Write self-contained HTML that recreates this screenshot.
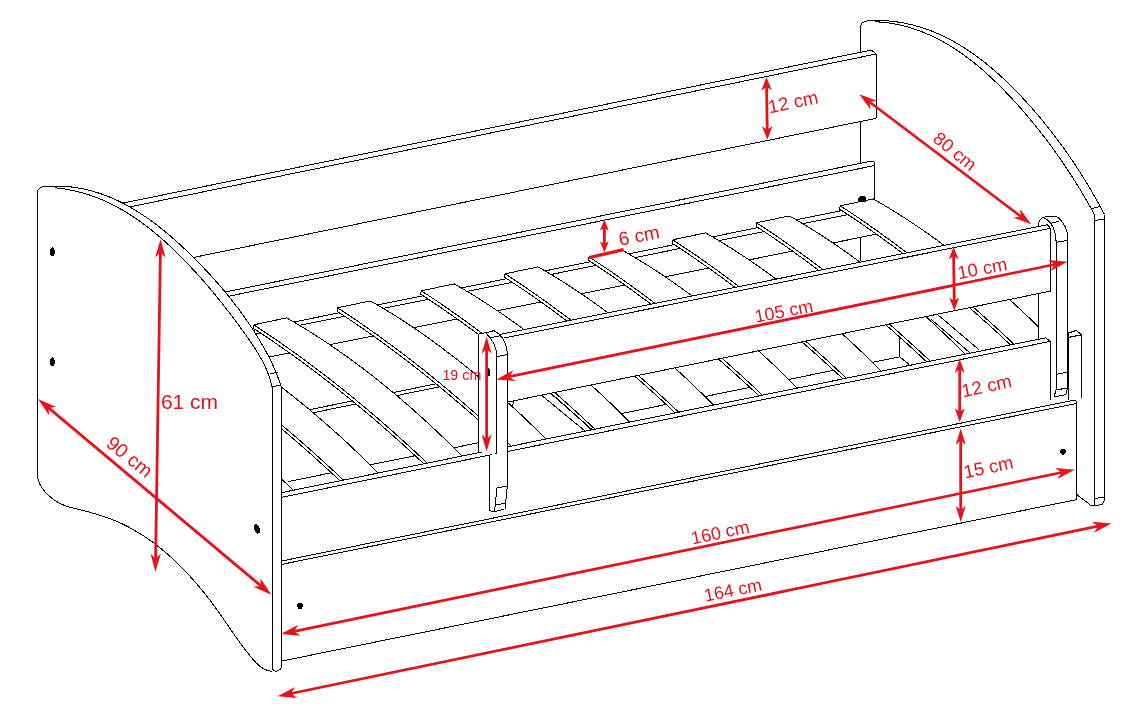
<!DOCTYPE html><html><head><meta charset="utf-8"><style>html,body{margin:0;padding:0;background:#fff;overflow:hidden}text{font-family:"Liberation Sans",sans-serif} .t{will-change:transform}</style></head><body><svg width="1148" height="710" viewBox="0 0 1148 710" style="display:block"><g shape-rendering="crispEdges"><path d="M860.6,300 V26 Q861,21 871,20.6 L871.00,20.59 L874.75,20.50 L878.46,20.51 L882.15,20.60 L885.81,20.79 L889.43,21.06 L893.03,21.42 L896.60,21.87 L900.13,22.40 L903.64,23.02 L907.12,23.71 L910.57,24.49 L913.99,25.34 L917.39,26.27 L920.75,27.27 L924.09,28.35 L927.40,29.49 L930.68,30.71 L933.94,32.00 L937.16,33.35 L940.36,34.77 L943.53,36.26 L946.68,37.80 L949.80,39.41 L952.89,41.08 L955.96,42.80 L959.00,44.58 L962.02,46.42 L965.01,48.30 L967.97,50.24 L970.91,52.23 L973.82,54.27 L976.71,56.36 L979.58,58.49 L982.42,60.66 L985.23,62.88 L988.02,65.14 L990.79,67.44 L993.53,69.77 L996.26,72.14 L998.95,74.55 L1001.63,76.98 L1004.28,79.45 L1006.91,81.95 L1009.51,84.48 L1012.09,87.04 L1014.66,89.62 L1017.19,92.22 L1019.71,94.85 L1022.21,97.50 L1024.68,100.16 L1027.14,102.85 L1029.57,105.55 L1031.98,108.27 L1034.37,111.00 L1036.73,113.75 L1039.08,116.52 L1041.41,119.30 L1043.71,122.10 L1045.99,124.92 L1048.25,127.74 L1050.49,130.59 L1052.71,133.44 L1054.91,136.31 L1057.08,139.19 L1059.24,142.09 L1061.37,145.00 L1063.48,147.92 L1065.57,150.85 L1067.64,153.79 L1069.69,156.75 L1071.71,159.71 L1073.72,162.69 L1075.70,165.67 L1077.66,168.67 L1079.60,171.67 L1081.52,174.68 L1083.42,177.71 L1085.29,180.74 L1087.15,183.77 L1088.98,186.82 L1090.79,189.87 L1092.58,192.93 L1094.35,195.99 L1096.10,199.06 L1097.82,202.14 L1099.52,205.22 L1101.21,208.31 L1102.87,211.40 L1104.51,214.49 L1104.5,499.6 L1102.5,504.6 L1094.7,505.5 L1091.5,505.9 L860.8,450 Z" fill="#fff" stroke="none"/><path d="M860.6,201 V26 Q861,21 871,20.6" fill="none" stroke="#000" stroke-width="1.0"/><path d="M871.00,20.59 L874.75,20.50 L878.46,20.51 L882.15,20.60 L885.81,20.79 L889.43,21.06 L893.03,21.42 L896.60,21.87 L900.13,22.40 L903.64,23.02 L907.12,23.71 L910.57,24.49 L913.99,25.34 L917.39,26.27 L920.75,27.27 L924.09,28.35 L927.40,29.49 L930.68,30.71 L933.94,32.00 L937.16,33.35 L940.36,34.77 L943.53,36.26 L946.68,37.80 L949.80,39.41 L952.89,41.08 L955.96,42.80 L959.00,44.58 L962.02,46.42 L965.01,48.30 L967.97,50.24 L970.91,52.23 L973.82,54.27 L976.71,56.36 L979.58,58.49 L982.42,60.66 L985.23,62.88 L988.02,65.14 L990.79,67.44 L993.53,69.77 L996.26,72.14 L998.95,74.55 L1001.63,76.98 L1004.28,79.45 L1006.91,81.95 L1009.51,84.48 L1012.09,87.04 L1014.66,89.62 L1017.19,92.22 L1019.71,94.85 L1022.21,97.50 L1024.68,100.16 L1027.14,102.85 L1029.57,105.55 L1031.98,108.27 L1034.37,111.00 L1036.73,113.75 L1039.08,116.52 L1041.41,119.30 L1043.71,122.10 L1045.99,124.92 L1048.25,127.74 L1050.49,130.59 L1052.71,133.44 L1054.91,136.31 L1057.08,139.19 L1059.24,142.09 L1061.37,145.00 L1063.48,147.92 L1065.57,150.85 L1067.64,153.79 L1069.69,156.75 L1071.71,159.71 L1073.72,162.69 L1075.70,165.67 L1077.66,168.67 L1079.60,171.67 L1081.52,174.68 L1083.42,177.71 L1085.29,180.74 L1087.15,183.77 L1088.98,186.82 L1090.79,189.87 L1092.58,192.93 L1094.35,195.99 L1096.10,199.06 L1097.82,202.14 L1099.52,205.22 L1101.21,208.31 L1102.87,211.40 L1104.51,214.49" fill="none" stroke="#000" stroke-width="1.0"/><path d="M874.60,21.70 L878.15,21.90 L881.68,22.18 L885.17,22.55 L888.62,23.00 L892.05,23.52 L895.45,24.13 L898.81,24.81 L902.14,25.57 L905.45,26.40 L908.72,27.31 L911.96,28.28 L915.18,29.33 L918.36,30.44 L921.52,31.62 L924.64,32.86 L927.74,34.17 L930.81,35.54 L933.85,36.97 L936.87,38.46 L939.86,40.00 L942.82,41.60 L945.76,43.26 L948.66,44.97 L951.55,46.73 L954.40,48.54 L957.24,50.40 L960.04,52.31 L962.83,54.26 L965.59,56.25 L968.32,58.29 L971.03,60.37 L973.72,62.49 L976.38,64.65 L979.02,66.85 L981.64,69.08 L984.24,71.34 L986.81,73.64 L989.36,75.96 L991.89,78.32 L994.40,80.70 L996.89,83.11 L999.36,85.55 L1001.81,88.01 L1004.24,90.49 L1006.65,92.99 L1009.04,95.51 L1011.41,98.04 L1013.76,100.60 L1016.10,103.17 L1018.41,105.75 L1020.71,108.34 L1022.99,110.95 L1025.25,113.57 L1027.50,116.20 L1029.72,118.84 L1031.93,121.50 L1034.12,124.17 L1036.29,126.85 L1038.45,129.54 L1040.58,132.25 L1042.70,134.97 L1044.80,137.69 L1046.88,140.43 L1048.94,143.18 L1050.99,145.94 L1053.02,148.71 L1055.03,151.49 L1057.02,154.29 L1058.99,157.09 L1060.95,159.90 L1062.89,162.72 L1064.81,165.55 L1066.71,168.39 L1068.59,171.24 L1070.46,174.10 L1072.31,176.97 L1074.14,179.85 L1075.95,182.73 L1077.74,185.63 L1079.52,188.53 L1081.28,191.44 L1083.02,194.36 L1084.74,197.28 L1086.45,200.22 L1088.14,203.16 L1089.80,206.11 L1091.46,209.06 L1093.09,212.03 L1094.71,215.00" fill="none" stroke="#000" stroke-width="1.0"/><line x1="1094.7" y1="215.0" x2="1094.7" y2="505.5" stroke="#000" stroke-width="1.0"/><line x1="1104.5" y1="214.5" x2="1104.5" y2="499.6" stroke="#000" stroke-width="1.0"/><line x1="1104.5" y1="499.6" x2="1102.5" y2="504.6" stroke="#000" stroke-width="1.0"/><line x1="1102.5" y1="504.6" x2="1094.7" y2="505.5" stroke="#000" stroke-width="1.0"/><line x1="1092.4" y1="208.5" x2="1100.8" y2="206.2" stroke="#000" stroke-width="1.0"/><line x1="1094.7" y1="220.3" x2="1104.5" y2="219.4" stroke="#000" stroke-width="1.0"/><line x1="1094.7" y1="498.3" x2="1104.5" y2="497.3" stroke="#000" stroke-width="1.0"/><path d="M1068.6,333 L1076.3,330.4 L1081.5,334.8 V398.3" fill="none" stroke="#000" stroke-width="1.0"/><line x1="1068.6" y1="333.0" x2="1068.6" y2="400.0" stroke="#000" stroke-width="1.0"/><line x1="1068.6" y1="337.4" x2="1081.5" y2="334.8" stroke="#000" stroke-width="1.0"/><path d="M100,210 L869.2,50.5 L874.4,52.3 L876.2,54 L876.2,118.3 L150,266 Z" fill="#fff" stroke="none"/><line x1="100.0" y1="207.8" x2="869.2" y2="50.5" stroke="#000" stroke-width="1.0"/><path d="M869.2,50.5 Q872.5,49.8 876.2,54" fill="none" stroke="#000" stroke-width="1.0"/><line x1="100.0" y1="213.0" x2="876.2" y2="54.0" stroke="#000" stroke-width="1.0"/><line x1="876.2" y1="54.0" x2="876.2" y2="118.3" stroke="#000" stroke-width="1.0"/><line x1="150.0" y1="266.3" x2="876.2" y2="118.3" stroke="#000" stroke-width="1.0"/><path d="M200,300 L870.7,161.3 L874.9,162.7 L874.9,203.8 L200,341 Z" fill="#fff" stroke="none"/><line x1="200.0" y1="297.1" x2="870.7" y2="161.3" stroke="#000" stroke-width="1.0"/><path d="M870.7,161.3 Q873,160.8 874.9,162.7" fill="none" stroke="#000" stroke-width="1.0"/><line x1="200.0" y1="302.0" x2="874.9" y2="165.5" stroke="#000" stroke-width="1.0"/><line x1="874.9" y1="162.7" x2="874.9" y2="200.7" stroke="#000" stroke-width="1.0"/><line x1="200.0" y1="341.1" x2="874.0" y2="204.0" stroke="#000" stroke-width="1.0"/><line x1="200.0" y1="345.4" x2="874.0" y2="209.3" stroke="#000" stroke-width="1.0"/><line x1="250.0" y1="360.8" x2="876.2" y2="234.2" stroke="#000" stroke-width="1.0"/><line x1="270.0" y1="417.8" x2="480.0" y2="374.8" stroke="#000" stroke-width="1.0"/><line x1="270.0" y1="421.6" x2="480.0" y2="378.5" stroke="#000" stroke-width="1.0"/><line x1="287.7" y1="481.7" x2="537.0" y2="430.8" stroke="#000" stroke-width="1.0"/><line x1="586.0" y1="420.8" x2="899.3" y2="356.9" stroke="#000" stroke-width="1.0"/><line x1="281.8" y1="479.3" x2="292.7" y2="489.5" stroke="#000" stroke-width="1.0"/><line x1="860.4" y1="236.6" x2="860.4" y2="261.3" stroke="#000" stroke-width="1.0"/><line x1="899.3" y1="333.5" x2="899.3" y2="356.5" stroke="#000" stroke-width="1.0"/><line x1="899.3" y1="356.5" x2="908.9" y2="364.2" stroke="#000" stroke-width="1.0"/><path d="M169.9,341.8 C172.0,343.2 178.2,347.2 182.3,350.0 C186.4,352.7 190.6,355.5 194.7,358.4 C198.8,361.3 203.0,364.2 207.1,367.1 C211.2,370.0 215.3,373.0 219.5,376.1 C223.6,379.1 227.7,382.2 231.9,385.3 C236.0,388.4 240.1,391.6 244.3,394.8 C248.4,398.0 252.5,401.2 256.7,404.5 C260.8,407.8 264.9,411.1 269.1,414.5 C273.2,417.9 277.3,421.3 281.5,424.8 C285.6,428.3 289.7,431.8 293.8,435.3 C298.0,438.9 302.1,442.5 306.2,446.1 C310.4,449.8 314.5,453.4 318.6,457.2 C322.8,460.9 326.9,464.7 331.0,468.5 C335.2,472.3 341.4,478.2 343.4,480.1 L378.3,473.0 C376.2,471.0 369.9,464.7 365.8,460.6 C361.6,456.5 357.4,452.5 353.2,448.6 C349.1,444.6 344.9,440.7 340.7,436.9 C336.5,433.1 332.3,429.4 328.2,425.7 C324.0,422.0 319.8,418.4 315.6,414.8 C311.4,411.3 307.3,407.8 303.1,404.4 C298.9,401.0 294.7,397.6 290.6,394.3 C286.4,391.0 282.2,387.8 278.0,384.6 C273.8,381.5 269.7,378.4 265.5,375.4 C261.3,372.3 257.1,369.4 252.9,366.5 C248.8,363.6 244.6,360.7 240.4,358.0 C236.2,355.2 232.1,352.5 227.9,349.9 C223.7,347.2 219.5,344.7 215.3,342.2 C211.2,339.7 204.9,336.1 202.8,334.9 Z" fill="#fff" stroke="none"/><path d="M169.3,345.2 C171.4,346.6 177.6,350.6 181.7,353.4 C185.8,356.1 190.0,358.9 194.1,361.8 C198.2,364.7 202.4,367.6 206.5,370.5 C210.6,373.4 214.7,376.4 218.9,379.5 C223.0,382.5 227.1,385.6 231.3,388.7 C235.4,391.8 239.5,395.0 243.7,398.2 C247.8,401.4 251.9,404.6 256.1,407.9 C260.2,411.2 264.3,414.5 268.5,417.9 C272.6,421.3 276.7,424.7 280.9,428.2 C285.0,431.7 289.1,435.2 293.2,438.7 C297.4,442.3 301.5,445.9 305.6,449.5 C309.8,453.2 313.9,456.8 318.0,460.6 C322.2,464.3 326.3,468.1 330.4,471.9 C334.6,475.7 340.8,481.6 342.8,483.5 L343.4,480.1 C341.4,478.2 335.2,472.3 331.0,468.5 C326.9,464.7 322.8,460.9 318.6,457.2 C314.5,453.4 310.4,449.8 306.2,446.1 C302.1,442.5 298.0,438.9 293.8,435.3 C289.7,431.8 285.6,428.3 281.5,424.8 C277.3,421.3 273.2,417.9 269.1,414.5 C264.9,411.1 260.8,407.8 256.7,404.5 C252.5,401.2 248.4,398.0 244.3,394.8 C240.1,391.6 236.0,388.4 231.9,385.3 C227.7,382.2 223.6,379.1 219.5,376.1 C215.3,373.0 211.2,370.0 207.1,367.1 C203.0,364.2 198.8,361.3 194.7,358.4 C190.6,355.5 186.4,352.7 182.3,350.0 C178.2,347.2 172.0,343.2 169.9,341.8 Z" fill="#fff" stroke="none"/><path d="M169.9,341.8 C172.0,343.2 178.2,347.2 182.3,350.0 C186.4,352.7 190.6,355.5 194.7,358.4 C198.8,361.3 203.0,364.2 207.1,367.1 C211.2,370.0 215.3,373.0 219.5,376.1 C223.6,379.1 227.7,382.2 231.9,385.3 C236.0,388.4 240.1,391.6 244.3,394.8 C248.4,398.0 252.5,401.2 256.7,404.5 C260.8,407.8 264.9,411.1 269.1,414.5 C273.2,417.9 277.3,421.3 281.5,424.8 C285.6,428.3 289.7,431.8 293.8,435.3 C298.0,438.9 302.1,442.5 306.2,446.1 C310.4,449.8 314.5,453.4 318.6,457.2 C322.8,460.9 326.9,464.7 331.0,468.5 C335.2,472.3 341.4,478.2 343.4,480.1" fill="none" stroke="#000" stroke-width="1"/><path d="M169.3,345.2 C171.4,346.6 177.6,350.6 181.7,353.4 C185.8,356.1 190.0,358.9 194.1,361.8 C198.2,364.7 202.4,367.6 206.5,370.5 C210.6,373.4 214.7,376.4 218.9,379.5 C223.0,382.5 227.1,385.6 231.3,388.7 C235.4,391.8 239.5,395.0 243.7,398.2 C247.8,401.4 251.9,404.6 256.1,407.9 C260.2,411.2 264.3,414.5 268.5,417.9 C272.6,421.3 276.7,424.7 280.9,428.2 C285.0,431.7 289.1,435.2 293.2,438.7 C297.4,442.3 301.5,445.9 305.6,449.5 C309.8,453.2 313.9,456.8 318.0,460.6 C322.2,464.3 326.3,468.1 330.4,471.9 C334.6,475.7 340.8,481.6 342.8,483.5" fill="none" stroke="#000" stroke-width="1"/><path d="M202.8,334.9 C204.9,336.1 211.2,339.7 215.3,342.2 C219.5,344.7 223.7,347.2 227.9,349.9 C232.1,352.5 236.2,355.2 240.4,358.0 C244.6,360.7 248.8,363.6 252.9,366.5 C257.1,369.4 261.3,372.3 265.5,375.4 C269.7,378.4 273.8,381.5 278.0,384.6 C282.2,387.8 286.4,391.0 290.6,394.3 C294.7,397.6 298.9,401.0 303.1,404.4 C307.3,407.8 311.4,411.3 315.6,414.8 C319.8,418.4 324.0,422.0 328.2,425.7 C332.3,429.4 336.5,433.1 340.7,436.9 C344.9,440.7 349.1,444.6 353.2,448.6 C357.4,452.5 361.6,456.5 365.8,460.6 C369.9,464.7 376.2,471.0 378.3,473.0" fill="none" stroke="#000" stroke-width="1"/><line x1="169.9" y1="341.8" x2="202.8" y2="334.9" stroke="#000" stroke-width="1.0"/><line x1="169.9" y1="341.8" x2="169.3" y2="345.2" stroke="#000" stroke-width="1.0"/><path d="M253.7,324.8 C255.8,326.2 262.0,330.2 266.1,333.0 C270.2,335.7 274.4,338.5 278.5,341.4 C282.6,344.3 286.8,347.2 290.9,350.1 C295.0,353.0 299.2,356.0 303.3,359.1 C307.4,362.1 311.5,365.2 315.7,368.3 C319.8,371.4 323.9,374.6 328.1,377.8 C332.2,381.0 336.3,384.2 340.5,387.5 C344.6,390.8 348.7,394.1 352.9,397.5 C357.0,400.9 361.1,404.3 365.3,407.8 C369.4,411.3 373.5,414.8 377.7,418.3 C381.8,421.9 385.9,425.5 390.1,429.1 C394.2,432.8 398.3,436.5 402.5,440.2 C406.6,443.9 410.7,447.7 414.9,451.5 C419.0,455.3 425.2,461.2 427.2,463.1 L462.1,456.0 C460.0,454.0 453.8,447.7 449.6,443.6 C445.4,439.5 441.2,435.5 437.0,431.6 C432.9,427.6 428.7,423.8 424.5,419.9 C420.3,416.1 416.1,412.4 412.0,408.7 C407.8,405.0 403.6,401.4 399.4,397.8 C395.3,394.3 391.1,390.8 386.9,387.4 C382.7,384.0 378.5,380.6 374.4,377.3 C370.2,374.0 366.0,370.8 361.8,367.6 C357.6,364.5 353.5,361.4 349.3,358.4 C345.1,355.3 340.9,352.4 336.7,349.5 C332.6,346.6 328.4,343.7 324.2,341.0 C320.0,338.2 315.9,335.5 311.7,332.9 C307.5,330.2 303.3,327.7 299.1,325.2 C295.0,322.7 288.7,319.1 286.6,317.9 Z" fill="#fff" stroke="none"/><path d="M253.1,328.2 C255.2,329.6 261.4,333.6 265.5,336.4 C269.6,339.1 273.8,341.9 277.9,344.8 C282.0,347.7 286.2,350.6 290.3,353.5 C294.4,356.4 298.6,359.4 302.7,362.5 C306.8,365.5 310.9,368.6 315.1,371.7 C319.2,374.8 323.3,378.0 327.5,381.2 C331.6,384.4 335.7,387.6 339.9,390.9 C344.0,394.2 348.1,397.5 352.3,400.9 C356.4,404.3 360.5,407.7 364.7,411.2 C368.8,414.7 372.9,418.2 377.1,421.7 C381.2,425.3 385.3,428.9 389.5,432.5 C393.6,436.2 397.7,439.9 401.9,443.6 C406.0,447.3 410.1,451.1 414.3,454.9 C418.4,458.7 424.6,464.6 426.6,466.5 L427.2,463.1 C425.2,461.2 419.0,455.3 414.9,451.5 C410.7,447.7 406.6,443.9 402.5,440.2 C398.3,436.5 394.2,432.8 390.1,429.1 C385.9,425.5 381.8,421.9 377.7,418.3 C373.5,414.8 369.4,411.3 365.3,407.8 C361.1,404.3 357.0,400.9 352.9,397.5 C348.7,394.1 344.6,390.8 340.5,387.5 C336.3,384.2 332.2,381.0 328.1,377.8 C323.9,374.6 319.8,371.4 315.7,368.3 C311.5,365.2 307.4,362.1 303.3,359.1 C299.2,356.0 295.0,353.0 290.9,350.1 C286.8,347.2 282.6,344.3 278.5,341.4 C274.4,338.5 270.2,335.7 266.1,333.0 C262.0,330.2 255.8,326.2 253.7,324.8 Z" fill="#fff" stroke="none"/><path d="M253.7,324.8 C255.8,326.2 262.0,330.2 266.1,333.0 C270.2,335.7 274.4,338.5 278.5,341.4 C282.6,344.3 286.8,347.2 290.9,350.1 C295.0,353.0 299.2,356.0 303.3,359.1 C307.4,362.1 311.5,365.2 315.7,368.3 C319.8,371.4 323.9,374.6 328.1,377.8 C332.2,381.0 336.3,384.2 340.5,387.5 C344.6,390.8 348.7,394.1 352.9,397.5 C357.0,400.9 361.1,404.3 365.3,407.8 C369.4,411.3 373.5,414.8 377.7,418.3 C381.8,421.9 385.9,425.5 390.1,429.1 C394.2,432.8 398.3,436.5 402.5,440.2 C406.6,443.9 410.7,447.7 414.9,451.5 C419.0,455.3 425.2,461.2 427.2,463.1" fill="none" stroke="#000" stroke-width="1"/><path d="M253.1,328.2 C255.2,329.6 261.4,333.6 265.5,336.4 C269.6,339.1 273.8,341.9 277.9,344.8 C282.0,347.7 286.2,350.6 290.3,353.5 C294.4,356.4 298.6,359.4 302.7,362.5 C306.8,365.5 310.9,368.6 315.1,371.7 C319.2,374.8 323.3,378.0 327.5,381.2 C331.6,384.4 335.7,387.6 339.9,390.9 C344.0,394.2 348.1,397.5 352.3,400.9 C356.4,404.3 360.5,407.7 364.7,411.2 C368.8,414.7 372.9,418.2 377.1,421.7 C381.2,425.3 385.3,428.9 389.5,432.5 C393.6,436.2 397.7,439.9 401.9,443.6 C406.0,447.3 410.1,451.1 414.3,454.9 C418.4,458.7 424.6,464.6 426.6,466.5" fill="none" stroke="#000" stroke-width="1"/><path d="M286.6,317.9 C288.7,319.1 295.0,322.7 299.1,325.2 C303.3,327.7 307.5,330.2 311.7,332.9 C315.9,335.5 320.0,338.2 324.2,341.0 C328.4,343.7 332.6,346.6 336.7,349.5 C340.9,352.4 345.1,355.3 349.3,358.4 C353.5,361.4 357.6,364.5 361.8,367.6 C366.0,370.8 370.2,374.0 374.4,377.3 C378.5,380.6 382.7,384.0 386.9,387.4 C391.1,390.8 395.3,394.3 399.4,397.8 C403.6,401.4 407.8,405.0 412.0,408.7 C416.1,412.4 420.3,416.1 424.5,419.9 C428.7,423.8 432.9,427.6 437.0,431.6 C441.2,435.5 445.4,439.5 449.6,443.6 C453.8,447.7 460.0,454.0 462.1,456.0" fill="none" stroke="#000" stroke-width="1"/><line x1="253.7" y1="324.8" x2="286.6" y2="317.9" stroke="#000" stroke-width="1.0"/><line x1="253.7" y1="324.8" x2="253.1" y2="328.2" stroke="#000" stroke-width="1.0"/><path d="M337.5,307.8 C339.6,309.2 345.8,313.2 349.9,316.0 C354.0,318.7 358.2,321.5 362.3,324.4 C366.4,327.3 370.6,330.2 374.7,333.1 C378.8,336.0 383.0,339.0 387.1,342.1 C391.2,345.1 395.4,348.2 399.5,351.3 C403.6,354.4 407.8,357.6 411.9,360.8 C416.0,364.0 420.2,367.2 424.3,370.5 C428.4,373.8 432.5,377.1 436.7,380.5 C440.8,383.9 444.9,387.3 449.1,390.8 C453.2,394.3 457.3,397.8 461.5,401.3 C465.6,404.9 469.7,408.5 473.9,412.1 C478.0,415.8 482.1,419.5 486.3,423.2 C490.4,426.9 494.5,430.7 498.7,434.5 C502.8,438.4 509.0,444.2 511.1,446.1 L545.9,439.1 C543.8,437.0 537.6,430.7 533.4,426.6 C529.2,422.6 525.0,418.5 520.9,414.6 C516.7,410.7 512.5,406.8 508.3,403.0 C504.1,399.1 500.0,395.4 495.8,391.7 C491.6,388.0 487.4,384.4 483.2,380.9 C479.1,377.3 474.9,373.8 470.7,370.4 C466.5,367.0 462.3,363.6 458.2,360.3 C454.0,357.0 449.8,353.8 445.6,350.7 C441.5,347.5 437.3,344.4 433.1,341.4 C428.9,338.3 424.7,335.4 420.6,332.5 C416.4,329.6 412.2,326.8 408.0,324.0 C403.8,321.2 399.7,318.5 395.5,315.9 C391.3,313.2 387.1,310.7 382.9,308.2 C378.8,305.7 372.5,302.1 370.4,300.9 Z" fill="#fff" stroke="none"/><path d="M336.9,311.2 C339.0,312.6 345.2,316.6 349.3,319.4 C353.4,322.1 357.6,324.9 361.7,327.8 C365.8,330.7 370.0,333.6 374.1,336.5 C378.2,339.4 382.4,342.4 386.5,345.5 C390.6,348.5 394.8,351.6 398.9,354.7 C403.0,357.8 407.2,361.0 411.3,364.2 C415.4,367.4 419.6,370.6 423.7,373.9 C427.8,377.2 431.9,380.5 436.1,383.9 C440.2,387.3 444.3,390.7 448.5,394.2 C452.6,397.7 456.7,401.2 460.9,404.7 C465.0,408.3 469.1,411.9 473.3,415.5 C477.4,419.2 481.5,422.9 485.7,426.6 C489.8,430.3 493.9,434.1 498.1,437.9 C502.2,441.8 508.4,447.6 510.5,449.5 L511.1,446.1 C509.0,444.2 502.8,438.4 498.7,434.5 C494.5,430.7 490.4,426.9 486.3,423.2 C482.1,419.5 478.0,415.8 473.9,412.1 C469.7,408.5 465.6,404.9 461.5,401.3 C457.3,397.8 453.2,394.3 449.1,390.8 C444.9,387.3 440.8,383.9 436.7,380.5 C432.5,377.1 428.4,373.8 424.3,370.5 C420.2,367.2 416.0,364.0 411.9,360.8 C407.8,357.6 403.6,354.4 399.5,351.3 C395.4,348.2 391.2,345.1 387.1,342.1 C383.0,339.0 378.8,336.0 374.7,333.1 C370.6,330.2 366.4,327.3 362.3,324.4 C358.2,321.5 354.0,318.7 349.9,316.0 C345.8,313.2 339.6,309.2 337.5,307.8 Z" fill="#fff" stroke="none"/><path d="M337.5,307.8 C339.6,309.2 345.8,313.2 349.9,316.0 C354.0,318.7 358.2,321.5 362.3,324.4 C366.4,327.3 370.6,330.2 374.7,333.1 C378.8,336.0 383.0,339.0 387.1,342.1 C391.2,345.1 395.4,348.2 399.5,351.3 C403.6,354.4 407.8,357.6 411.9,360.8 C416.0,364.0 420.2,367.2 424.3,370.5 C428.4,373.8 432.5,377.1 436.7,380.5 C440.8,383.9 444.9,387.3 449.1,390.8 C453.2,394.3 457.3,397.8 461.5,401.3 C465.6,404.9 469.7,408.5 473.9,412.1 C478.0,415.8 482.1,419.5 486.3,423.2 C490.4,426.9 494.5,430.7 498.7,434.5 C502.8,438.4 509.0,444.2 511.1,446.1" fill="none" stroke="#000" stroke-width="1"/><path d="M336.9,311.2 C339.0,312.6 345.2,316.6 349.3,319.4 C353.4,322.1 357.6,324.9 361.7,327.8 C365.8,330.7 370.0,333.6 374.1,336.5 C378.2,339.4 382.4,342.4 386.5,345.5 C390.6,348.5 394.8,351.6 398.9,354.7 C403.0,357.8 407.2,361.0 411.3,364.2 C415.4,367.4 419.6,370.6 423.7,373.9 C427.8,377.2 431.9,380.5 436.1,383.9 C440.2,387.3 444.3,390.7 448.5,394.2 C452.6,397.7 456.7,401.2 460.9,404.7 C465.0,408.3 469.1,411.9 473.3,415.5 C477.4,419.2 481.5,422.9 485.7,426.6 C489.8,430.3 493.9,434.1 498.1,437.9 C502.2,441.8 508.4,447.6 510.5,449.5" fill="none" stroke="#000" stroke-width="1"/><path d="M370.4,300.9 C372.5,302.1 378.8,305.7 382.9,308.2 C387.1,310.7 391.3,313.2 395.5,315.9 C399.7,318.5 403.8,321.2 408.0,324.0 C412.2,326.8 416.4,329.6 420.6,332.5 C424.7,335.4 428.9,338.3 433.1,341.4 C437.3,344.4 441.5,347.5 445.6,350.7 C449.8,353.8 454.0,357.0 458.2,360.3 C462.3,363.6 466.5,367.0 470.7,370.4 C474.9,373.8 479.1,377.3 483.2,380.9 C487.4,384.4 491.6,388.0 495.8,391.7 C500.0,395.4 504.1,399.1 508.3,403.0 C512.5,406.8 516.7,410.7 520.9,414.6 C525.0,418.5 529.2,422.6 533.4,426.6 C537.6,430.7 543.8,437.0 545.9,439.1" fill="none" stroke="#000" stroke-width="1"/><line x1="337.5" y1="307.8" x2="370.4" y2="300.9" stroke="#000" stroke-width="1.0"/><line x1="337.5" y1="307.8" x2="336.9" y2="311.2" stroke="#000" stroke-width="1.0"/><path d="M421.3,290.8 C423.4,292.2 429.6,296.2 433.7,299.0 C437.8,301.7 442.0,304.5 446.1,307.4 C450.2,310.3 454.4,313.2 458.5,316.1 C462.6,319.0 466.8,322.0 470.9,325.1 C475.0,328.1 479.2,331.2 483.3,334.3 C487.4,337.4 491.6,340.6 495.7,343.8 C499.8,347.0 504.0,350.2 508.1,353.5 C512.2,356.8 516.4,360.2 520.5,363.5 C524.6,366.9 528.8,370.3 532.9,373.8 C537.0,377.3 541.2,380.8 545.3,384.4 C549.4,387.9 553.6,391.5 557.7,395.2 C561.8,398.8 566.0,402.5 570.1,406.2 C574.2,410.0 578.4,413.7 582.5,417.6 C586.6,421.4 592.8,427.2 594.9,429.1 L629.8,422.1 C627.7,420.0 621.4,413.7 617.2,409.7 C613.0,405.6 608.9,401.6 604.7,397.6 C600.5,393.7 596.3,389.8 592.1,386.0 C588.0,382.2 583.8,378.4 579.6,374.7 C575.4,371.0 571.2,367.4 567.1,363.9 C562.9,360.3 558.7,356.8 554.5,353.4 C550.3,350.0 546.2,346.6 542.0,343.3 C537.8,340.0 533.6,336.8 529.4,333.7 C525.3,330.5 521.1,327.4 516.9,324.4 C512.7,321.3 508.5,318.4 504.4,315.5 C500.2,312.6 496.0,309.8 491.8,307.0 C487.6,304.2 483.5,301.5 479.3,298.9 C475.1,296.2 470.9,293.7 466.7,291.2 C462.6,288.7 456.3,285.1 454.2,283.9 Z" fill="#fff" stroke="none"/><path d="M420.7,294.2 C422.8,295.6 429.0,299.6 433.1,302.4 C437.2,305.1 441.4,307.9 445.5,310.8 C449.6,313.7 453.8,316.6 457.9,319.5 C462.0,322.4 466.2,325.4 470.3,328.5 C474.4,331.5 478.6,334.6 482.7,337.7 C486.8,340.8 491.0,344.0 495.1,347.2 C499.2,350.4 503.4,353.6 507.5,356.9 C511.6,360.2 515.8,363.6 519.9,366.9 C524.0,370.3 528.2,373.7 532.3,377.2 C536.4,380.7 540.6,384.2 544.7,387.8 C548.8,391.3 553.0,394.9 557.1,398.6 C561.2,402.2 565.4,405.9 569.5,409.6 C573.6,413.4 577.8,417.1 581.9,421.0 C586.0,424.8 592.2,430.6 594.3,432.5 L594.9,429.1 C592.8,427.2 586.6,421.4 582.5,417.6 C578.4,413.7 574.2,410.0 570.1,406.2 C566.0,402.5 561.8,398.8 557.7,395.2 C553.6,391.5 549.4,387.9 545.3,384.4 C541.2,380.8 537.0,377.3 532.9,373.8 C528.8,370.3 524.6,366.9 520.5,363.5 C516.4,360.2 512.2,356.8 508.1,353.5 C504.0,350.2 499.8,347.0 495.7,343.8 C491.6,340.6 487.4,337.4 483.3,334.3 C479.2,331.2 475.0,328.1 470.9,325.1 C466.8,322.0 462.6,319.0 458.5,316.1 C454.4,313.2 450.2,310.3 446.1,307.4 C442.0,304.5 437.8,301.7 433.7,299.0 C429.6,296.2 423.4,292.2 421.3,290.8 Z" fill="#fff" stroke="none"/><path d="M421.3,290.8 C423.4,292.2 429.6,296.2 433.7,299.0 C437.8,301.7 442.0,304.5 446.1,307.4 C450.2,310.3 454.4,313.2 458.5,316.1 C462.6,319.0 466.8,322.0 470.9,325.1 C475.0,328.1 479.2,331.2 483.3,334.3 C487.4,337.4 491.6,340.6 495.7,343.8 C499.8,347.0 504.0,350.2 508.1,353.5 C512.2,356.8 516.4,360.2 520.5,363.5 C524.6,366.9 528.8,370.3 532.9,373.8 C537.0,377.3 541.2,380.8 545.3,384.4 C549.4,387.9 553.6,391.5 557.7,395.2 C561.8,398.8 566.0,402.5 570.1,406.2 C574.2,410.0 578.4,413.7 582.5,417.6 C586.6,421.4 592.8,427.2 594.9,429.1" fill="none" stroke="#000" stroke-width="1"/><path d="M420.7,294.2 C422.8,295.6 429.0,299.6 433.1,302.4 C437.2,305.1 441.4,307.9 445.5,310.8 C449.6,313.7 453.8,316.6 457.9,319.5 C462.0,322.4 466.2,325.4 470.3,328.5 C474.4,331.5 478.6,334.6 482.7,337.7 C486.8,340.8 491.0,344.0 495.1,347.2 C499.2,350.4 503.4,353.6 507.5,356.9 C511.6,360.2 515.8,363.6 519.9,366.9 C524.0,370.3 528.2,373.7 532.3,377.2 C536.4,380.7 540.6,384.2 544.7,387.8 C548.8,391.3 553.0,394.9 557.1,398.6 C561.2,402.2 565.4,405.9 569.5,409.6 C573.6,413.4 577.8,417.1 581.9,421.0 C586.0,424.8 592.2,430.6 594.3,432.5" fill="none" stroke="#000" stroke-width="1"/><path d="M454.2,283.9 C456.3,285.1 462.6,288.7 466.7,291.2 C470.9,293.7 475.1,296.2 479.3,298.9 C483.5,301.5 487.6,304.2 491.8,307.0 C496.0,309.8 500.2,312.6 504.4,315.5 C508.5,318.4 512.7,321.3 516.9,324.4 C521.1,327.4 525.3,330.5 529.4,333.7 C533.6,336.8 537.8,340.0 542.0,343.3 C546.2,346.6 550.3,350.0 554.5,353.4 C558.7,356.8 562.9,360.3 567.1,363.9 C571.2,367.4 575.4,371.0 579.6,374.7 C583.8,378.4 588.0,382.2 592.1,386.0 C596.3,389.8 600.5,393.7 604.7,397.6 C608.9,401.6 613.0,405.6 617.2,409.7 C621.4,413.7 627.7,420.0 629.8,422.1" fill="none" stroke="#000" stroke-width="1"/><line x1="421.3" y1="290.8" x2="454.2" y2="283.9" stroke="#000" stroke-width="1.0"/><line x1="421.3" y1="290.8" x2="420.7" y2="294.2" stroke="#000" stroke-width="1.0"/><path d="M505.1,273.8 C507.2,275.2 513.4,279.2 517.5,282.0 C521.6,284.7 525.8,287.6 529.9,290.4 C534.0,293.3 538.2,296.2 542.3,299.1 C546.4,302.0 550.6,305.0 554.7,308.1 C558.8,311.1 563.0,314.2 567.1,317.3 C571.2,320.4 575.4,323.6 579.5,326.8 C583.6,330.0 587.8,333.2 591.9,336.5 C596.0,339.8 600.2,343.2 604.3,346.5 C608.4,349.9 612.6,353.4 616.7,356.8 C620.8,360.3 625.0,363.8 629.1,367.4 C633.2,370.9 637.4,374.5 641.5,378.2 C645.6,381.8 649.8,385.5 653.9,389.2 C658.0,393.0 662.2,396.8 666.3,400.6 C670.4,404.4 676.6,410.2 678.7,412.2 L713.6,405.1 C711.5,403.0 705.2,396.7 701.0,392.7 C696.9,388.6 692.7,384.6 688.5,380.6 C684.3,376.7 680.1,372.8 676.0,369.0 C671.8,365.2 667.6,361.4 663.4,357.7 C659.2,354.1 655.0,350.4 650.9,346.9 C646.7,343.3 642.5,339.8 638.3,336.4 C634.1,333.0 630.0,329.6 625.8,326.3 C621.6,323.1 617.4,319.8 613.2,316.7 C609.1,313.5 604.9,310.4 600.7,307.4 C596.5,304.4 592.3,301.4 588.2,298.5 C584.0,295.6 579.8,292.8 575.6,290.0 C571.4,287.2 567.3,284.5 563.1,281.9 C558.9,279.2 554.7,276.7 550.5,274.2 C546.4,271.7 540.1,268.1 538.0,266.9 Z" fill="#fff" stroke="none"/><path d="M504.5,277.2 C506.6,278.6 512.8,282.6 516.9,285.4 C521.0,288.1 525.2,291.0 529.3,293.8 C533.4,296.7 537.6,299.6 541.7,302.5 C545.8,305.4 550.0,308.4 554.1,311.5 C558.2,314.5 562.4,317.6 566.5,320.7 C570.6,323.8 574.8,327.0 578.9,330.2 C583.0,333.4 587.2,336.6 591.3,339.9 C595.4,343.2 599.6,346.6 603.7,349.9 C607.8,353.3 612.0,356.8 616.1,360.2 C620.2,363.7 624.4,367.2 628.5,370.8 C632.6,374.3 636.8,377.9 640.9,381.6 C645.0,385.2 649.2,388.9 653.3,392.6 C657.4,396.4 661.6,400.2 665.7,404.0 C669.8,407.8 676.0,413.6 678.1,415.6 L678.7,412.2 C676.6,410.2 670.4,404.4 666.3,400.6 C662.2,396.8 658.0,393.0 653.9,389.2 C649.8,385.5 645.6,381.8 641.5,378.2 C637.4,374.5 633.2,370.9 629.1,367.4 C625.0,363.8 620.8,360.3 616.7,356.8 C612.6,353.4 608.4,349.9 604.3,346.5 C600.2,343.2 596.0,339.8 591.9,336.5 C587.8,333.2 583.6,330.0 579.5,326.8 C575.4,323.6 571.2,320.4 567.1,317.3 C563.0,314.2 558.8,311.1 554.7,308.1 C550.6,305.0 546.4,302.0 542.3,299.1 C538.2,296.2 534.0,293.3 529.9,290.4 C525.8,287.6 521.6,284.7 517.5,282.0 C513.4,279.2 507.2,275.2 505.1,273.8 Z" fill="#fff" stroke="none"/><path d="M505.1,273.8 C507.2,275.2 513.4,279.2 517.5,282.0 C521.6,284.7 525.8,287.6 529.9,290.4 C534.0,293.3 538.2,296.2 542.3,299.1 C546.4,302.0 550.6,305.0 554.7,308.1 C558.8,311.1 563.0,314.2 567.1,317.3 C571.2,320.4 575.4,323.6 579.5,326.8 C583.6,330.0 587.8,333.2 591.9,336.5 C596.0,339.8 600.2,343.2 604.3,346.5 C608.4,349.9 612.6,353.4 616.7,356.8 C620.8,360.3 625.0,363.8 629.1,367.4 C633.2,370.9 637.4,374.5 641.5,378.2 C645.6,381.8 649.8,385.5 653.9,389.2 C658.0,393.0 662.2,396.8 666.3,400.6 C670.4,404.4 676.6,410.2 678.7,412.2" fill="none" stroke="#000" stroke-width="1"/><path d="M504.5,277.2 C506.6,278.6 512.8,282.6 516.9,285.4 C521.0,288.1 525.2,291.0 529.3,293.8 C533.4,296.7 537.6,299.6 541.7,302.5 C545.8,305.4 550.0,308.4 554.1,311.5 C558.2,314.5 562.4,317.6 566.5,320.7 C570.6,323.8 574.8,327.0 578.9,330.2 C583.0,333.4 587.2,336.6 591.3,339.9 C595.4,343.2 599.6,346.6 603.7,349.9 C607.8,353.3 612.0,356.8 616.1,360.2 C620.2,363.7 624.4,367.2 628.5,370.8 C632.6,374.3 636.8,377.9 640.9,381.6 C645.0,385.2 649.2,388.9 653.3,392.6 C657.4,396.4 661.6,400.2 665.7,404.0 C669.8,407.8 676.0,413.6 678.1,415.6" fill="none" stroke="#000" stroke-width="1"/><path d="M538.0,266.9 C540.1,268.1 546.4,271.7 550.5,274.2 C554.7,276.7 558.9,279.2 563.1,281.9 C567.3,284.5 571.4,287.2 575.6,290.0 C579.8,292.8 584.0,295.6 588.2,298.5 C592.3,301.4 596.5,304.4 600.7,307.4 C604.9,310.4 609.1,313.5 613.2,316.7 C617.4,319.8 621.6,323.1 625.8,326.3 C630.0,329.6 634.1,333.0 638.3,336.4 C642.5,339.8 646.7,343.3 650.9,346.9 C655.0,350.4 659.2,354.1 663.4,357.7 C667.6,361.4 671.8,365.2 676.0,369.0 C680.1,372.8 684.3,376.7 688.5,380.6 C692.7,384.6 696.9,388.6 701.0,392.7 C705.2,396.7 711.5,403.0 713.6,405.1" fill="none" stroke="#000" stroke-width="1"/><line x1="505.1" y1="273.8" x2="538.0" y2="266.9" stroke="#000" stroke-width="1.0"/><line x1="505.1" y1="273.8" x2="504.5" y2="277.2" stroke="#000" stroke-width="1.0"/><path d="M588.9,256.8 C591.0,258.2 597.2,262.2 601.3,265.0 C605.4,267.7 609.6,270.6 613.7,273.4 C617.8,276.3 622.0,279.2 626.1,282.1 C630.2,285.1 634.4,288.0 638.5,291.1 C642.6,294.1 646.8,297.2 650.9,300.3 C655.0,303.4 659.2,306.6 663.3,309.8 C667.4,313.0 671.6,316.2 675.7,319.5 C679.8,322.8 684.0,326.2 688.1,329.6 C692.2,332.9 696.4,336.4 700.5,339.8 C704.7,343.3 708.8,346.8 712.9,350.4 C717.1,353.9 721.2,357.5 725.3,361.2 C729.5,364.8 733.6,368.5 737.7,372.3 C741.9,376.0 746.0,379.8 750.1,383.6 C754.3,387.4 760.5,393.3 762.5,395.2 L797.4,388.1 C795.3,386.0 789.0,379.8 784.8,375.7 C780.7,371.6 776.5,367.6 772.3,363.6 C768.1,359.7 763.9,355.8 759.8,352.0 C755.6,348.2 751.4,344.4 747.2,340.7 C743.0,337.1 738.9,333.4 734.7,329.9 C730.5,326.3 726.3,322.8 722.1,319.4 C718.0,316.0 713.8,312.6 709.6,309.3 C705.4,306.1 701.2,302.8 697.1,299.7 C692.9,296.5 688.7,293.4 684.5,290.4 C680.3,287.4 676.1,284.4 672.0,281.5 C667.8,278.6 663.6,275.8 659.4,273.0 C655.2,270.2 651.1,267.5 646.9,264.9 C642.7,262.3 638.5,259.7 634.3,257.2 C630.2,254.7 623.9,251.1 621.8,249.9 Z" fill="#fff" stroke="none"/><path d="M588.3,260.2 C590.4,261.6 596.6,265.6 600.7,268.4 C604.8,271.1 609.0,274.0 613.1,276.8 C617.2,279.7 621.4,282.6 625.5,285.5 C629.6,288.5 633.8,291.4 637.9,294.5 C642.0,297.5 646.2,300.6 650.3,303.7 C654.4,306.8 658.6,310.0 662.7,313.2 C666.8,316.4 671.0,319.6 675.1,322.9 C679.2,326.2 683.4,329.6 687.5,333.0 C691.6,336.3 695.8,339.8 699.9,343.2 C704.1,346.7 708.2,350.2 712.3,353.8 C716.5,357.3 720.6,360.9 724.7,364.6 C728.9,368.2 733.0,371.9 737.1,375.7 C741.3,379.4 745.4,383.2 749.5,387.0 C753.7,390.8 759.9,396.7 761.9,398.6 L762.5,395.2 C760.5,393.3 754.3,387.4 750.1,383.6 C746.0,379.8 741.9,376.0 737.7,372.3 C733.6,368.5 729.5,364.8 725.3,361.2 C721.2,357.5 717.1,353.9 712.9,350.4 C708.8,346.8 704.7,343.3 700.5,339.8 C696.4,336.4 692.2,332.9 688.1,329.6 C684.0,326.2 679.8,322.8 675.7,319.5 C671.6,316.2 667.4,313.0 663.3,309.8 C659.2,306.6 655.0,303.4 650.9,300.3 C646.8,297.2 642.6,294.1 638.5,291.1 C634.4,288.0 630.2,285.1 626.1,282.1 C622.0,279.2 617.8,276.3 613.7,273.4 C609.6,270.6 605.4,267.7 601.3,265.0 C597.2,262.2 591.0,258.2 588.9,256.8 Z" fill="#fff" stroke="none"/><path d="M588.9,256.8 C591.0,258.2 597.2,262.2 601.3,265.0 C605.4,267.7 609.6,270.6 613.7,273.4 C617.8,276.3 622.0,279.2 626.1,282.1 C630.2,285.1 634.4,288.0 638.5,291.1 C642.6,294.1 646.8,297.2 650.9,300.3 C655.0,303.4 659.2,306.6 663.3,309.8 C667.4,313.0 671.6,316.2 675.7,319.5 C679.8,322.8 684.0,326.2 688.1,329.6 C692.2,332.9 696.4,336.4 700.5,339.8 C704.7,343.3 708.8,346.8 712.9,350.4 C717.1,353.9 721.2,357.5 725.3,361.2 C729.5,364.8 733.6,368.5 737.7,372.3 C741.9,376.0 746.0,379.8 750.1,383.6 C754.3,387.4 760.5,393.3 762.5,395.2" fill="none" stroke="#000" stroke-width="1"/><path d="M588.3,260.2 C590.4,261.6 596.6,265.6 600.7,268.4 C604.8,271.1 609.0,274.0 613.1,276.8 C617.2,279.7 621.4,282.6 625.5,285.5 C629.6,288.5 633.8,291.4 637.9,294.5 C642.0,297.5 646.2,300.6 650.3,303.7 C654.4,306.8 658.6,310.0 662.7,313.2 C666.8,316.4 671.0,319.6 675.1,322.9 C679.2,326.2 683.4,329.6 687.5,333.0 C691.6,336.3 695.8,339.8 699.9,343.2 C704.1,346.7 708.2,350.2 712.3,353.8 C716.5,357.3 720.6,360.9 724.7,364.6 C728.9,368.2 733.0,371.9 737.1,375.7 C741.3,379.4 745.4,383.2 749.5,387.0 C753.7,390.8 759.9,396.7 761.9,398.6" fill="none" stroke="#000" stroke-width="1"/><path d="M621.8,249.9 C623.9,251.1 630.2,254.7 634.3,257.2 C638.5,259.7 642.7,262.3 646.9,264.9 C651.1,267.5 655.2,270.2 659.4,273.0 C663.6,275.8 667.8,278.6 672.0,281.5 C676.1,284.4 680.3,287.4 684.5,290.4 C688.7,293.4 692.9,296.5 697.1,299.7 C701.2,302.8 705.4,306.1 709.6,309.3 C713.8,312.6 718.0,316.0 722.1,319.4 C726.3,322.8 730.5,326.3 734.7,329.9 C738.9,333.4 743.0,337.1 747.2,340.7 C751.4,344.4 755.6,348.2 759.8,352.0 C763.9,355.8 768.1,359.7 772.3,363.6 C776.5,367.6 780.7,371.6 784.8,375.7 C789.0,379.8 795.3,386.0 797.4,388.1" fill="none" stroke="#000" stroke-width="1"/><line x1="588.9" y1="256.8" x2="621.8" y2="249.9" stroke="#000" stroke-width="1.0"/><line x1="588.9" y1="256.8" x2="588.3" y2="260.2" stroke="#000" stroke-width="1.0"/><path d="M672.7,239.8 C674.8,241.2 681.0,245.2 685.1,248.0 C689.2,250.7 693.4,253.6 697.5,256.4 C701.6,259.3 705.8,262.2 709.9,265.1 C714.0,268.1 718.2,271.0 722.3,274.1 C726.4,277.1 730.6,280.2 734.7,283.3 C738.9,286.4 743.0,289.6 747.1,292.8 C751.3,296.0 755.4,299.3 759.5,302.5 C763.7,305.8 767.8,309.2 771.9,312.6 C776.1,316.0 780.2,319.4 784.3,322.8 C788.5,326.3 792.6,329.8 796.7,333.4 C800.9,337.0 805.0,340.6 809.1,344.2 C813.3,347.8 817.4,351.5 821.5,355.3 C825.7,359.0 829.8,362.8 833.9,366.6 C838.1,370.4 844.3,376.3 846.3,378.2 L881.2,371.1 C879.1,369.1 872.8,362.8 868.7,358.7 C864.5,354.6 860.3,350.6 856.1,346.7 C851.9,342.7 847.8,338.8 843.6,335.0 C839.4,331.2 835.2,327.4 831.0,323.8 C826.9,320.1 822.7,316.5 818.5,312.9 C814.3,309.3 810.1,305.9 805.9,302.4 C801.8,299.0 797.6,295.6 793.4,292.4 C789.2,289.1 785.0,285.8 780.9,282.7 C776.7,279.5 772.5,276.4 768.3,273.4 C764.1,270.4 760.0,267.4 755.8,264.5 C751.6,261.6 747.4,258.8 743.2,256.0 C739.0,253.2 734.9,250.5 730.7,247.9 C726.5,245.3 722.3,242.7 718.1,240.2 C714.0,237.7 707.7,234.1 705.6,232.9 Z" fill="#fff" stroke="none"/><path d="M672.1,243.2 C674.2,244.6 680.4,248.6 684.5,251.4 C688.6,254.1 692.8,257.0 696.9,259.8 C701.0,262.7 705.2,265.6 709.3,268.5 C713.4,271.5 717.6,274.4 721.7,277.5 C725.8,280.5 730.0,283.6 734.1,286.7 C738.3,289.8 742.4,293.0 746.5,296.2 C750.7,299.4 754.8,302.7 758.9,305.9 C763.1,309.2 767.2,312.6 771.3,316.0 C775.5,319.4 779.6,322.8 783.7,326.2 C787.9,329.7 792.0,333.2 796.1,336.8 C800.3,340.4 804.4,344.0 808.5,347.6 C812.7,351.2 816.8,354.9 820.9,358.7 C825.1,362.4 829.2,366.2 833.3,370.0 C837.5,373.8 843.7,379.7 845.7,381.6 L846.3,378.2 C844.3,376.3 838.1,370.4 833.9,366.6 C829.8,362.8 825.7,359.0 821.5,355.3 C817.4,351.5 813.3,347.8 809.1,344.2 C805.0,340.6 800.9,337.0 796.7,333.4 C792.6,329.8 788.5,326.3 784.3,322.8 C780.2,319.4 776.1,316.0 771.9,312.6 C767.8,309.2 763.7,305.8 759.5,302.5 C755.4,299.3 751.3,296.0 747.1,292.8 C743.0,289.6 738.9,286.4 734.7,283.3 C730.6,280.2 726.4,277.1 722.3,274.1 C718.2,271.0 714.0,268.1 709.9,265.1 C705.8,262.2 701.6,259.3 697.5,256.4 C693.4,253.6 689.2,250.7 685.1,248.0 C681.0,245.2 674.8,241.2 672.7,239.8 Z" fill="#fff" stroke="none"/><path d="M672.7,239.8 C674.8,241.2 681.0,245.2 685.1,248.0 C689.2,250.7 693.4,253.6 697.5,256.4 C701.6,259.3 705.8,262.2 709.9,265.1 C714.0,268.1 718.2,271.0 722.3,274.1 C726.4,277.1 730.6,280.2 734.7,283.3 C738.9,286.4 743.0,289.6 747.1,292.8 C751.3,296.0 755.4,299.3 759.5,302.5 C763.7,305.8 767.8,309.2 771.9,312.6 C776.1,316.0 780.2,319.4 784.3,322.8 C788.5,326.3 792.6,329.8 796.7,333.4 C800.9,337.0 805.0,340.6 809.1,344.2 C813.3,347.8 817.4,351.5 821.5,355.3 C825.7,359.0 829.8,362.8 833.9,366.6 C838.1,370.4 844.3,376.3 846.3,378.2" fill="none" stroke="#000" stroke-width="1"/><path d="M672.1,243.2 C674.2,244.6 680.4,248.6 684.5,251.4 C688.6,254.1 692.8,257.0 696.9,259.8 C701.0,262.7 705.2,265.6 709.3,268.5 C713.4,271.5 717.6,274.4 721.7,277.5 C725.8,280.5 730.0,283.6 734.1,286.7 C738.3,289.8 742.4,293.0 746.5,296.2 C750.7,299.4 754.8,302.7 758.9,305.9 C763.1,309.2 767.2,312.6 771.3,316.0 C775.5,319.4 779.6,322.8 783.7,326.2 C787.9,329.7 792.0,333.2 796.1,336.8 C800.3,340.4 804.4,344.0 808.5,347.6 C812.7,351.2 816.8,354.9 820.9,358.7 C825.1,362.4 829.2,366.2 833.3,370.0 C837.5,373.8 843.7,379.7 845.7,381.6" fill="none" stroke="#000" stroke-width="1"/><path d="M705.6,232.9 C707.7,234.1 714.0,237.7 718.1,240.2 C722.3,242.7 726.5,245.3 730.7,247.9 C734.9,250.5 739.0,253.2 743.2,256.0 C747.4,258.8 751.6,261.6 755.8,264.5 C760.0,267.4 764.1,270.4 768.3,273.4 C772.5,276.4 776.7,279.5 780.9,282.7 C785.0,285.8 789.2,289.1 793.4,292.4 C797.6,295.6 801.8,299.0 805.9,302.4 C810.1,305.9 814.3,309.3 818.5,312.9 C822.7,316.5 826.9,320.1 831.0,323.8 C835.2,327.4 839.4,331.2 843.6,335.0 C847.8,338.8 851.9,342.7 856.1,346.7 C860.3,350.6 864.5,354.6 868.7,358.7 C872.8,362.8 879.1,369.1 881.2,371.1" fill="none" stroke="#000" stroke-width="1"/><line x1="672.7" y1="239.8" x2="705.6" y2="232.9" stroke="#000" stroke-width="1.0"/><line x1="672.7" y1="239.8" x2="672.1" y2="243.2" stroke="#000" stroke-width="1.0"/><path d="M756.5,222.8 C758.6,224.2 764.8,228.2 768.9,231.0 C773.0,233.7 777.2,236.6 781.3,239.4 C785.4,242.3 789.6,245.2 793.7,248.1 C797.8,251.1 802.0,254.0 806.1,257.1 C810.3,260.1 814.4,263.2 818.5,266.3 C822.7,269.4 826.8,272.6 830.9,275.8 C835.1,279.0 839.2,282.3 843.3,285.6 C847.5,288.9 851.6,292.2 855.7,295.6 C859.9,299.0 864.0,302.4 868.1,305.9 C872.3,309.3 876.4,312.8 880.5,316.4 C884.7,320.0 888.8,323.6 893.0,327.2 C897.1,330.9 901.2,334.6 905.4,338.3 C909.5,342.0 913.6,345.8 917.8,349.6 C921.9,353.4 928.1,359.3 930.2,361.2 L965.0,354.2 C962.9,352.1 956.7,345.8 952.5,341.7 C948.3,337.6 944.1,333.6 939.9,329.7 C935.8,325.7 931.6,321.8 927.4,318.0 C923.2,314.2 919.0,310.5 914.8,306.8 C910.7,303.1 906.5,299.5 902.3,295.9 C898.1,292.4 893.9,288.9 889.8,285.4 C885.6,282.0 881.4,278.7 877.2,275.4 C873.0,272.1 868.9,268.8 864.7,265.7 C860.5,262.5 856.3,259.4 852.1,256.4 C847.9,253.4 843.8,250.4 839.6,247.5 C835.4,244.6 831.2,241.8 827.0,239.0 C822.9,236.2 818.7,233.5 814.5,230.9 C810.3,228.3 806.1,225.7 801.9,223.2 C797.8,220.7 791.5,217.1 789.4,215.9 Z" fill="#fff" stroke="none"/><path d="M755.9,226.2 C758.0,227.6 764.2,231.6 768.3,234.4 C772.4,237.1 776.6,240.0 780.7,242.8 C784.8,245.7 789.0,248.6 793.1,251.5 C797.2,254.5 801.4,257.4 805.5,260.5 C809.7,263.5 813.8,266.6 817.9,269.7 C822.1,272.8 826.2,276.0 830.3,279.2 C834.5,282.4 838.6,285.7 842.7,289.0 C846.9,292.3 851.0,295.6 855.1,299.0 C859.3,302.4 863.4,305.8 867.5,309.3 C871.7,312.7 875.8,316.2 879.9,319.8 C884.1,323.4 888.2,327.0 892.4,330.6 C896.5,334.3 900.6,338.0 904.8,341.7 C908.9,345.4 913.0,349.2 917.2,353.0 C921.3,356.8 927.5,362.7 929.6,364.6 L930.2,361.2 C928.1,359.3 921.9,353.4 917.8,349.6 C913.6,345.8 909.5,342.0 905.4,338.3 C901.2,334.6 897.1,330.9 893.0,327.2 C888.8,323.6 884.7,320.0 880.5,316.4 C876.4,312.8 872.3,309.3 868.1,305.9 C864.0,302.4 859.9,299.0 855.7,295.6 C851.6,292.2 847.5,288.9 843.3,285.6 C839.2,282.3 835.1,279.0 830.9,275.8 C826.8,272.6 822.7,269.4 818.5,266.3 C814.4,263.2 810.3,260.1 806.1,257.1 C802.0,254.0 797.8,251.1 793.7,248.1 C789.6,245.2 785.4,242.3 781.3,239.4 C777.2,236.6 773.0,233.7 768.9,231.0 C764.8,228.2 758.6,224.2 756.5,222.8 Z" fill="#fff" stroke="none"/><path d="M756.5,222.8 C758.6,224.2 764.8,228.2 768.9,231.0 C773.0,233.7 777.2,236.6 781.3,239.4 C785.4,242.3 789.6,245.2 793.7,248.1 C797.8,251.1 802.0,254.0 806.1,257.1 C810.3,260.1 814.4,263.2 818.5,266.3 C822.7,269.4 826.8,272.6 830.9,275.8 C835.1,279.0 839.2,282.3 843.3,285.6 C847.5,288.9 851.6,292.2 855.7,295.6 C859.9,299.0 864.0,302.4 868.1,305.9 C872.3,309.3 876.4,312.8 880.5,316.4 C884.7,320.0 888.8,323.6 893.0,327.2 C897.1,330.9 901.2,334.6 905.4,338.3 C909.5,342.0 913.6,345.8 917.8,349.6 C921.9,353.4 928.1,359.3 930.2,361.2" fill="none" stroke="#000" stroke-width="1"/><path d="M755.9,226.2 C758.0,227.6 764.2,231.6 768.3,234.4 C772.4,237.1 776.6,240.0 780.7,242.8 C784.8,245.7 789.0,248.6 793.1,251.5 C797.2,254.5 801.4,257.4 805.5,260.5 C809.7,263.5 813.8,266.6 817.9,269.7 C822.1,272.8 826.2,276.0 830.3,279.2 C834.5,282.4 838.6,285.7 842.7,289.0 C846.9,292.3 851.0,295.6 855.1,299.0 C859.3,302.4 863.4,305.8 867.5,309.3 C871.7,312.7 875.8,316.2 879.9,319.8 C884.1,323.4 888.2,327.0 892.4,330.6 C896.5,334.3 900.6,338.0 904.8,341.7 C908.9,345.4 913.0,349.2 917.2,353.0 C921.3,356.8 927.5,362.7 929.6,364.6" fill="none" stroke="#000" stroke-width="1"/><path d="M789.4,215.9 C791.5,217.1 797.8,220.7 801.9,223.2 C806.1,225.7 810.3,228.3 814.5,230.9 C818.7,233.5 822.9,236.2 827.0,239.0 C831.2,241.8 835.4,244.6 839.6,247.5 C843.8,250.4 847.9,253.4 852.1,256.4 C856.3,259.4 860.5,262.5 864.7,265.7 C868.9,268.8 873.0,272.1 877.2,275.4 C881.4,278.7 885.6,282.0 889.8,285.4 C893.9,288.9 898.1,292.4 902.3,295.9 C906.5,299.5 910.7,303.1 914.8,306.8 C919.0,310.5 923.2,314.2 927.4,318.0 C931.6,321.8 935.8,325.7 939.9,329.7 C944.1,333.6 948.3,337.6 952.5,341.7 C956.7,345.8 962.9,352.1 965.0,354.2" fill="none" stroke="#000" stroke-width="1"/><line x1="756.5" y1="222.8" x2="789.4" y2="215.9" stroke="#000" stroke-width="1.0"/><line x1="756.5" y1="222.8" x2="755.9" y2="226.2" stroke="#000" stroke-width="1.0"/><path d="M840.3,205.8 C842.4,207.2 848.6,211.2 852.7,214.0 C856.8,216.7 861.0,219.6 865.1,222.4 C869.2,225.3 873.4,228.2 877.5,231.1 C881.7,234.1 885.8,237.1 889.9,240.1 C894.1,243.1 898.2,246.2 902.3,249.3 C906.5,252.4 910.6,255.6 914.7,258.8 C918.9,262.0 923.0,265.3 927.1,268.6 C931.3,271.9 935.4,275.2 939.5,278.6 C943.7,282.0 947.8,285.4 952.0,288.9 C956.1,292.3 960.2,295.9 964.4,299.4 C968.5,303.0 972.6,306.6 976.8,310.2 C980.9,313.9 985.0,317.6 989.2,321.3 C993.3,325.0 997.4,328.8 1001.6,332.6 C1005.7,336.5 1011.9,342.3 1014.0,344.2 L1048.8,337.2 C1046.8,335.1 1040.5,328.8 1036.3,324.7 C1032.1,320.7 1027.9,316.6 1023.8,312.7 C1019.6,308.7 1015.4,304.9 1011.2,301.0 C1007.0,297.2 1002.8,293.5 998.7,289.8 C994.5,286.1 990.3,282.5 986.1,278.9 C981.9,275.4 977.8,271.9 973.6,268.4 C969.4,265.0 965.2,261.7 961.0,258.4 C956.8,255.1 952.7,251.9 948.5,248.7 C944.3,245.5 940.1,242.4 935.9,239.4 C931.7,236.4 927.6,233.4 923.4,230.5 C919.2,227.6 915.0,224.8 910.8,222.0 C906.7,219.2 902.5,216.5 898.3,213.9 C894.1,211.3 889.9,208.7 885.7,206.2 C881.6,203.7 875.3,200.1 873.2,198.9 Z" fill="#fff" stroke="none"/><path d="M839.7,209.2 C841.8,210.6 848.0,214.6 852.1,217.4 C856.2,220.1 860.4,223.0 864.5,225.8 C868.6,228.7 872.8,231.6 876.9,234.5 C881.1,237.5 885.2,240.5 889.3,243.5 C893.5,246.5 897.6,249.6 901.7,252.7 C905.9,255.8 910.0,259.0 914.1,262.2 C918.3,265.4 922.4,268.7 926.5,272.0 C930.7,275.3 934.8,278.6 938.9,282.0 C943.1,285.4 947.2,288.8 951.4,292.3 C955.5,295.7 959.6,299.3 963.8,302.8 C967.9,306.4 972.0,310.0 976.2,313.6 C980.3,317.3 984.4,321.0 988.6,324.7 C992.7,328.4 996.8,332.2 1001.0,336.0 C1005.1,339.9 1011.3,345.7 1013.4,347.6 L1014.0,344.2 C1011.9,342.3 1005.7,336.5 1001.6,332.6 C997.4,328.8 993.3,325.0 989.2,321.3 C985.0,317.6 980.9,313.9 976.8,310.2 C972.6,306.6 968.5,303.0 964.4,299.4 C960.2,295.9 956.1,292.3 952.0,288.9 C947.8,285.4 943.7,282.0 939.5,278.6 C935.4,275.2 931.3,271.9 927.1,268.6 C923.0,265.3 918.9,262.0 914.7,258.8 C910.6,255.6 906.5,252.4 902.3,249.3 C898.2,246.2 894.1,243.1 889.9,240.1 C885.8,237.1 881.7,234.1 877.5,231.1 C873.4,228.2 869.2,225.3 865.1,222.4 C861.0,219.6 856.8,216.7 852.7,214.0 C848.6,211.2 842.4,207.2 840.3,205.8 Z" fill="#fff" stroke="none"/><path d="M840.3,205.8 C842.4,207.2 848.6,211.2 852.7,214.0 C856.8,216.7 861.0,219.6 865.1,222.4 C869.2,225.3 873.4,228.2 877.5,231.1 C881.7,234.1 885.8,237.1 889.9,240.1 C894.1,243.1 898.2,246.2 902.3,249.3 C906.5,252.4 910.6,255.6 914.7,258.8 C918.9,262.0 923.0,265.3 927.1,268.6 C931.3,271.9 935.4,275.2 939.5,278.6 C943.7,282.0 947.8,285.4 952.0,288.9 C956.1,292.3 960.2,295.9 964.4,299.4 C968.5,303.0 972.6,306.6 976.8,310.2 C980.9,313.9 985.0,317.6 989.2,321.3 C993.3,325.0 997.4,328.8 1001.6,332.6 C1005.7,336.5 1011.9,342.3 1014.0,344.2" fill="none" stroke="#000" stroke-width="1"/><path d="M839.7,209.2 C841.8,210.6 848.0,214.6 852.1,217.4 C856.2,220.1 860.4,223.0 864.5,225.8 C868.6,228.7 872.8,231.6 876.9,234.5 C881.1,237.5 885.2,240.5 889.3,243.5 C893.5,246.5 897.6,249.6 901.7,252.7 C905.9,255.8 910.0,259.0 914.1,262.2 C918.3,265.4 922.4,268.7 926.5,272.0 C930.7,275.3 934.8,278.6 938.9,282.0 C943.1,285.4 947.2,288.8 951.4,292.3 C955.5,295.7 959.6,299.3 963.8,302.8 C967.9,306.4 972.0,310.0 976.2,313.6 C980.3,317.3 984.4,321.0 988.6,324.7 C992.7,328.4 996.8,332.2 1001.0,336.0 C1005.1,339.9 1011.3,345.7 1013.4,347.6" fill="none" stroke="#000" stroke-width="1"/><path d="M873.2,198.9 C875.3,200.1 881.6,203.7 885.7,206.2 C889.9,208.7 894.1,211.3 898.3,213.9 C902.5,216.5 906.7,219.2 910.8,222.0 C915.0,224.8 919.2,227.6 923.4,230.5 C927.6,233.4 931.7,236.4 935.9,239.4 C940.1,242.4 944.3,245.5 948.5,248.7 C952.7,251.9 956.8,255.1 961.0,258.4 C965.2,261.7 969.4,265.0 973.6,268.4 C977.8,271.9 981.9,275.4 986.1,278.9 C990.3,282.5 994.5,286.1 998.7,289.8 C1002.8,293.5 1007.0,297.2 1011.2,301.0 C1015.4,304.9 1019.6,308.7 1023.8,312.7 C1027.9,316.6 1032.1,320.7 1036.3,324.7 C1040.5,328.8 1046.8,335.1 1048.8,337.2" fill="none" stroke="#000" stroke-width="1"/><line x1="840.3" y1="205.8" x2="873.2" y2="198.9" stroke="#000" stroke-width="1.0"/><line x1="840.3" y1="205.8" x2="839.7" y2="209.2" stroke="#000" stroke-width="1.0"/><line x1="541.9" y1="395.6" x2="584.9" y2="430.9" stroke="#000" stroke-width="1.0"/><line x1="930.6" y1="318.8" x2="969.7" y2="352.6" stroke="#000" stroke-width="1.0"/><line x1="937.5" y1="314.5" x2="979.2" y2="349.9" stroke="#000" stroke-width="1.0"/><line x1="551.1" y1="393.8" x2="591.4" y2="429.0" stroke="#000" stroke-width="1.0"/><path d="M1038.4,223.5 Q1039.5,218 1045,216.9 L1055.2,216.3 L1058.6,218 C1063,222 1067.6,229 1067.6,238 V388 L1066,395 L1053.9,397.5 L1038.4,397.5 Z" fill="#fff" stroke="none"/><path d="M1038.4,240 L1038.4,223.5 Q1039.5,218 1045,216.9 L1055.2,216.3 L1058.6,218 C1063,222 1067.6,229 1067.6,238 V388 L1065.9,394.7 L1053.9,397.1" fill="none" stroke="#000" stroke-width="1.0"/><path d="M1044,218 C1050,220.5 1055.8,228 1056.1,241.7 V389.9 L1053.9,397.1" fill="none" stroke="#000" stroke-width="1.0"/><line x1="1049.6" y1="223.7" x2="1058.6" y2="221.4" stroke="#000" stroke-width="1.0"/><line x1="1056.0" y1="242.3" x2="1067.7" y2="240.5" stroke="#000" stroke-width="1.0"/><line x1="1038.4" y1="240.0" x2="1038.4" y2="397.0" stroke="#000" stroke-width="1.0"/><line x1="1056.0" y1="374.4" x2="1067.7" y2="372.0" stroke="#000" stroke-width="1.0"/><line x1="1056.0" y1="389.9" x2="1066.5" y2="388.2" stroke="#000" stroke-width="1.0"/><path d="M858.3,201.6 Q858.6,196 862.2,196 Q865.9,196 865.9,201 Z" fill="#000" stroke="#000" stroke-width="1.0"/><path d="M499.9,334.5 L1047.2,224.7 L1050.5,228.3 L1050.5,291.1 L507.5,402.1 Z" fill="#fff" stroke="none"/><line x1="499.9" y1="334.5" x2="1047.2" y2="224.7" stroke="#000" stroke-width="1.0"/><line x1="1047.2" y1="224.7" x2="1050.5" y2="228.3" stroke="#000" stroke-width="1.0"/><line x1="504.1" y1="338.0" x2="1050.5" y2="228.3" stroke="#000" stroke-width="1.0"/><line x1="1050.5" y1="228.3" x2="1050.5" y2="291.1" stroke="#000" stroke-width="1.0"/><line x1="507.5" y1="402.1" x2="1050.5" y2="291.1" stroke="#000" stroke-width="1.0"/><line x1="513.3" y1="401.2" x2="512.8" y2="406.5" stroke="#000" stroke-width="1.0"/><line x1="507.8" y1="403.2" x2="512.8" y2="406.5" stroke="#000" stroke-width="1.0"/><path d="M281.2,492.7 L1045.8,337.8 L1050.3,341.4 L1050.3,410 L281.2,565 Z" fill="#fff" stroke="none"/><line x1="281.2" y1="492.7" x2="1045.8" y2="337.8" stroke="#000" stroke-width="1.0"/><line x1="1045.8" y1="337.8" x2="1050.3" y2="341.4" stroke="#000" stroke-width="1.0"/><line x1="281.2" y1="497.4" x2="1050.3" y2="341.4" stroke="#000" stroke-width="1.0"/><line x1="1050.3" y1="341.4" x2="1050.3" y2="400.0" stroke="#000" stroke-width="1.0"/><path d="M281.2,561.1 L1076.7,399.8 L1076.7,499.6 L282,661 Z" fill="#fff" stroke="none"/><line x1="281.2" y1="561.1" x2="1074.3" y2="400.1" stroke="#000" stroke-width="1.0"/><line x1="1074.3" y1="400.1" x2="1076.7" y2="401.5" stroke="#000" stroke-width="1.0"/><line x1="281.2" y1="564.5" x2="1076.7" y2="403.4" stroke="#000" stroke-width="1.0"/><line x1="1076.7" y1="401.5" x2="1076.7" y2="499.6" stroke="#000" stroke-width="1.0"/><line x1="282.0" y1="661.0" x2="1076.7" y2="499.6" stroke="#000" stroke-width="1.0"/><line x1="1076.7" y1="494.5" x2="1091.5" y2="505.9" stroke="#000" stroke-width="1.0"/><line x1="1091.5" y1="505.9" x2="1094.7" y2="505.5" stroke="#000" stroke-width="1.0"/><ellipse cx="300" cy="605.9" rx="2.8" ry="3.0" fill="#000"/><ellipse cx="1063" cy="451.8" rx="2.9" ry="2.9" fill="#000"/><path d="M478.5,452 V336 Q478.6,333.4 481,333.3 L494,330.6 C501,334 507.2,342 507.2,354 V487 L496.7,488 L496.7,452 Z" fill="#fff" stroke="none"/><path d="M478.5,452 V336 Q478.6,333.4 481,333.3 L486.2,332.8 L494,330.6" fill="none" stroke="#000" stroke-width="1.0"/><path d="M486.1,333.2 C486.8,334.1 489.0,336.3 490.4,338.3 C491.8,340.3 493.6,343.2 494.6,345.4 C495.6,347.6 496.0,349.8 496.3,351.7 C496.6,353.6 496.6,355.8 496.7,356.6" fill="none" stroke="#000" stroke-width="1.0"/><line x1="496.7" y1="356.6" x2="496.7" y2="488.0" stroke="#000" stroke-width="1.0"/><line x1="490.4" y1="337.8" x2="500.2" y2="335.8" stroke="#000" stroke-width="1.0"/><path d="M494,330.6 C500.5,334 507.2,342 507.2,354 V487.4" fill="none" stroke="#000" stroke-width="1.0"/><line x1="496.8" y1="356.7" x2="507.2" y2="354.5" stroke="#000" stroke-width="1.0"/><path d="M489.2,455 L507.2,452 L507.2,487 L505,508.8 L493.7,511.6 L489.2,509 Z" fill="#fff" stroke="none"/><path d="M489.2,455.2 V508.5 Q489.4,511.6 493.7,511.6 L504.4,509.4" fill="none" stroke="#000" stroke-width="1.0"/><path d="M496.7,487.9 L495.4,505.4 L494.2,511" fill="none" stroke="#000" stroke-width="1.0"/><path d="M507.2,487.4 L505,508.8" fill="none" stroke="#000" stroke-width="1.0"/><line x1="496.7" y1="487.9" x2="507.2" y2="486.2" stroke="#000" stroke-width="1.0"/><line x1="495.4" y1="505.2" x2="505.5" y2="503.2" stroke="#000" stroke-width="1.0"/><path d="M37.6,476 L37.6,193 Q37.6,187 44,186.6 L44.00,186.60 L47.17,186.36 L50.32,186.19 L53.46,186.10 L56.57,186.08 L59.65,186.14 L62.72,186.26 L65.77,186.45 L68.79,186.71 L71.80,187.04 L74.78,187.43 L77.75,187.89 L80.69,188.41 L83.62,188.99 L86.52,189.64 L89.40,190.34 L92.27,191.10 L95.11,191.92 L97.94,192.80 L100.75,193.73 L103.53,194.72 L106.30,195.76 L109.05,196.85 L111.78,197.99 L114.49,199.18 L117.18,200.42 L119.86,201.70 L122.52,203.03 L125.15,204.41 L127.78,205.83 L130.38,207.29 L132.96,208.79 L135.53,210.33 L138.08,211.91 L140.61,213.53 L143.13,215.19 L145.63,216.88 L148.11,218.60 L150.58,220.36 L153.02,222.15 L155.46,223.97 L157.87,225.82 L160.27,227.69 L162.66,229.60 L165.02,231.53 L167.38,233.48 L169.71,235.46 L172.03,237.46 L174.34,239.48 L176.63,241.53 L178.91,243.59 L181.17,245.66 L183.41,247.76 L185.64,249.87 L187.86,251.99 L190.06,254.13 L192.25,256.28 L194.42,258.44 L196.58,260.61 L198.73,262.79 L200.86,264.98 L202.97,267.18 L205.07,269.39 L207.16,271.61 L209.23,273.84 L211.28,276.08 L213.32,278.34 L215.34,280.60 L217.35,282.87 L219.34,285.16 L221.31,287.46 L223.27,289.77 L225.20,292.09 L227.13,294.42 L229.03,296.76 L230.91,299.11 L232.78,301.48 L234.63,303.86 L236.46,306.25 L238.28,308.65 L240.07,311.07 L241.84,313.49 L243.60,315.93 L245.33,318.39 L247.05,320.85 L248.75,323.33 L250.42,325.82 L252.08,328.32 L253.71,330.84 L255.32,333.37 L256.92,335.91 L258.49,338.47 L260.04,341.04 L261.56,343.62 L263.06,346.22 L264.54,348.83 L265.98,351.46 L267.40,354.11 L268.78,356.77 L270.13,359.45 L271.45,362.15 L272.72,364.86 L273.96,367.59 L275.16,370.35 L276.32,373.12 L277.43,375.91 L278.50,378.73 L279.52,381.56 L280.49,384.42 L281.41,387.30 L281.7,665 Q281.7,670.5 275.5,671.3 L272.00,671.30 L269.64,670.93 L267.42,670.33 L265.32,669.52 L263.33,668.52 L261.45,667.35 L259.66,666.03 L257.95,664.58 L256.31,663.02 L254.74,661.38 L253.21,659.67 L251.72,657.91 L250.27,656.13 L248.83,654.34 L247.41,652.54 L246.01,650.73 L244.62,648.91 L243.25,647.09 L241.90,645.27 L240.56,643.44 L239.22,641.60 L237.90,639.76 L236.59,637.92 L235.28,636.07 L233.99,634.22 L232.70,632.37 L231.41,630.51 L230.12,628.66 L228.84,626.80 L227.56,624.94 L226.28,623.08 L225.00,621.23 L223.71,619.37 L222.43,617.52 L221.13,615.66 L219.84,613.81 L218.53,611.96 L217.22,610.12 L215.89,608.28 L214.56,606.44 L213.21,604.61 L211.86,602.78 L210.49,600.96 L209.10,599.14 L207.71,597.33 L206.31,595.53 L204.89,593.73 L203.46,591.95 L202.02,590.16 L200.56,588.39 L199.09,586.63 L197.62,584.87 L196.12,583.13 L194.62,581.39 L193.10,579.67 L191.57,577.95 L190.03,576.25 L188.48,574.56 L186.91,572.88 L185.33,571.21 L183.74,569.55 L182.14,567.91 L180.52,566.28 L178.89,564.67 L177.25,563.07 L175.59,561.48 L173.93,559.91 L172.24,558.36 L170.55,556.82 L168.84,555.30 L167.12,553.79 L165.39,552.30 L163.64,550.83 L161.88,549.38 L160.11,547.95 L158.33,546.53 L156.53,545.13 L154.71,543.76 L152.89,542.40 L151.05,541.06 L149.20,539.75 L147.33,538.45 L145.45,537.18 L143.56,535.93 L141.65,534.70 L139.73,533.50 L137.80,532.31 L135.85,531.16 L133.89,530.02 L131.92,528.91 L129.93,527.83 L127.93,526.77 L125.92,525.73 L123.89,524.73 L121.84,523.74 L119.79,522.79 L117.72,521.86 L115.63,520.96 L113.53,520.09 L111.42,519.25 L109.29,518.43 L107.15,517.65 L105.00,516.89 L102.83,516.16 L100.66,515.45 L98.48,514.77 L96.29,514.11 L94.09,513.47 L91.90,512.86 L89.69,512.26 L87.49,511.68 L85.29,511.11 L83.08,510.56 L80.88,510.02 L78.69,509.50 L76.50,508.98 L74.32,508.45 L72.15,507.89 L69.99,507.29 L67.85,506.63 L65.73,505.90 L63.64,505.08 L61.56,504.17 L59.52,503.15 L57.52,502.03 L55.56,500.83 L53.65,499.53 L51.80,498.14 L50.02,496.68 L48.30,495.14 L46.66,493.52 L45.11,491.84 L43.65,490.09 L42.30,488.28 L41.08,486.40 L40.01,484.45 L39.10,482.44 L38.39,480.36 L37.88,478.22 L37.60,476.00 Z" fill="#fff" stroke="none"/><path d="M44.00,186.60 L47.17,186.36 L50.32,186.19 L53.46,186.10 L56.57,186.08 L59.65,186.14 L62.72,186.26 L65.77,186.45 L68.79,186.71 L71.80,187.04 L74.78,187.43 L77.75,187.89 L80.69,188.41 L83.62,188.99 L86.52,189.64 L89.40,190.34 L92.27,191.10 L95.11,191.92 L97.94,192.80 L100.75,193.73 L103.53,194.72 L106.30,195.76 L109.05,196.85 L111.78,197.99 L114.49,199.18 L117.18,200.42 L119.86,201.70 L122.52,203.03 L125.15,204.41 L127.78,205.83 L130.38,207.29 L132.96,208.79 L135.53,210.33 L138.08,211.91 L140.61,213.53 L143.13,215.19 L145.63,216.88 L148.11,218.60 L150.58,220.36 L153.02,222.15 L155.46,223.97 L157.87,225.82 L160.27,227.69 L162.66,229.60 L165.02,231.53 L167.38,233.48 L169.71,235.46 L172.03,237.46 L174.34,239.48 L176.63,241.53 L178.91,243.59 L181.17,245.66 L183.41,247.76 L185.64,249.87 L187.86,251.99 L190.06,254.13 L192.25,256.28 L194.42,258.44 L196.58,260.61 L198.73,262.79 L200.86,264.98 L202.97,267.18 L205.07,269.39 L207.16,271.61 L209.23,273.84 L211.28,276.08 L213.32,278.34 L215.34,280.60 L217.35,282.87 L219.34,285.16 L221.31,287.46 L223.27,289.77 L225.20,292.09 L227.13,294.42 L229.03,296.76 L230.91,299.11 L232.78,301.48 L234.63,303.86 L236.46,306.25 L238.28,308.65 L240.07,311.07 L241.84,313.49 L243.60,315.93 L245.33,318.39 L247.05,320.85 L248.75,323.33 L250.42,325.82 L252.08,328.32 L253.71,330.84 L255.32,333.37 L256.92,335.91 L258.49,338.47 L260.04,341.04 L261.56,343.62 L263.06,346.22 L264.54,348.83 L265.98,351.46 L267.40,354.11 L268.78,356.77 L270.13,359.45 L271.45,362.15 L272.72,364.86 L273.96,367.59 L275.16,370.35 L276.32,373.12 L277.43,375.91 L278.50,378.73 L279.52,381.56 L280.49,384.42 L281.41,387.30" fill="none" stroke="#000" stroke-width="1.0"/><path d="M54.60,187.80 L57.50,188.07 L60.38,188.40 L63.24,188.78 L66.07,189.22 L68.89,189.70 L71.69,190.25 L74.47,190.84 L77.22,191.48 L79.96,192.17 L82.68,192.91 L85.38,193.70 L88.06,194.54 L90.72,195.42 L93.36,196.35 L95.98,197.32 L98.58,198.34 L101.17,199.39 L103.73,200.49 L106.28,201.64 L108.81,202.82 L111.32,204.04 L113.81,205.30 L116.29,206.59 L118.74,207.93 L121.18,209.30 L123.61,210.70 L126.01,212.14 L128.40,213.61 L130.77,215.12 L133.12,216.66 L135.46,218.22 L137.78,219.82 L140.08,221.45 L142.37,223.10 L144.64,224.78 L146.90,226.49 L149.14,228.23 L151.36,229.99 L153.57,231.77 L155.76,233.58 L157.94,235.41 L160.10,237.26 L162.24,239.13 L164.37,241.02 L166.49,242.93 L168.59,244.86 L170.68,246.80 L172.75,248.76 L174.81,250.74 L176.86,252.73 L178.89,254.73 L180.90,256.75 L182.91,258.78 L184.89,260.82 L186.87,262.87 L188.83,264.94 L190.78,267.01 L192.72,269.08 L194.64,271.17 L196.55,273.27 L198.45,275.37 L200.34,277.48 L202.21,279.60 L204.07,281.73 L205.93,283.87 L207.77,286.01 L209.59,288.16 L211.41,290.32 L213.22,292.49 L215.02,294.67 L216.81,296.85 L218.58,299.04 L220.35,301.24 L222.11,303.45 L223.86,305.66 L225.60,307.89 L227.33,310.11 L229.06,312.35 L230.77,314.59 L232.48,316.84 L234.18,319.10 L235.87,321.37 L237.55,323.64 L239.23,325.92 L240.90,328.20 L242.56,330.49 L244.22,332.79 L245.87,335.10 L247.51,337.41 L249.13,339.73 L250.74,342.06 L252.33,344.41 L253.89,346.76 L255.43,349.13 L256.92,351.52 L258.38,353.92 L259.80,356.35 L261.17,358.79 L262.49,361.25 L263.76,363.73 L264.97,366.24 L266.11,368.77 L267.19,371.33 L268.19,373.91 L269.12,376.53 L269.97,379.17 L270.74,381.85 L271.42,384.56 L272.01,387.30" fill="none" stroke="#000" stroke-width="1.0"/><path d="M37.6,476 L37.6,193 Q37.6,187 44,186.6" fill="none" stroke="#000" stroke-width="1.0"/><path d="M37.60,476.00 L37.88,478.22 L38.39,480.36 L39.10,482.44 L40.01,484.45 L41.08,486.40 L42.30,488.28 L43.65,490.09 L45.11,491.84 L46.66,493.52 L48.30,495.14 L50.02,496.68 L51.80,498.14 L53.65,499.53 L55.56,500.83 L57.52,502.03 L59.52,503.15 L61.56,504.17 L63.64,505.08 L65.73,505.90 L67.85,506.63 L69.99,507.29 L72.15,507.89 L74.32,508.45 L76.50,508.98 L78.69,509.50 L80.88,510.02 L83.08,510.56 L85.29,511.11 L87.49,511.68 L89.69,512.26 L91.90,512.86 L94.09,513.47 L96.29,514.11 L98.48,514.77 L100.66,515.45 L102.83,516.16 L105.00,516.89 L107.15,517.65 L109.29,518.43 L111.42,519.25 L113.53,520.09 L115.63,520.96 L117.72,521.86 L119.79,522.79 L121.84,523.74 L123.89,524.73 L125.92,525.73 L127.93,526.77 L129.93,527.83 L131.92,528.91 L133.89,530.02 L135.85,531.16 L137.80,532.31 L139.73,533.50 L141.65,534.70 L143.56,535.93 L145.45,537.18 L147.33,538.45 L149.20,539.75 L151.05,541.06 L152.89,542.40 L154.71,543.76 L156.53,545.13 L158.33,546.53 L160.11,547.95 L161.88,549.38 L163.64,550.83 L165.39,552.30 L167.12,553.79 L168.84,555.30 L170.55,556.82 L172.24,558.36 L173.93,559.91 L175.59,561.48 L177.25,563.07 L178.89,564.67 L180.52,566.28 L182.14,567.91 L183.74,569.55 L185.33,571.21 L186.91,572.88 L188.48,574.56 L190.03,576.25 L191.57,577.95 L193.10,579.67 L194.62,581.39 L196.12,583.13 L197.62,584.87 L199.09,586.63 L200.56,588.39 L202.02,590.16 L203.46,591.95 L204.89,593.73 L206.31,595.53 L207.71,597.33 L209.10,599.14 L210.49,600.96 L211.86,602.78 L213.21,604.61 L214.56,606.44 L215.89,608.28 L217.22,610.12 L218.53,611.96 L219.84,613.81 L221.13,615.66 L222.43,617.52 L223.71,619.37 L225.00,621.23 L226.28,623.08 L227.56,624.94 L228.84,626.80 L230.12,628.66 L231.41,630.51 L232.70,632.37 L233.99,634.22 L235.28,636.07 L236.59,637.92 L237.90,639.76 L239.22,641.60 L240.56,643.44 L241.90,645.27 L243.25,647.09 L244.62,648.91 L246.01,650.73 L247.41,652.54 L248.83,654.34 L250.27,656.13 L251.72,657.91 L253.21,659.67 L254.74,661.38 L256.31,663.02 L257.95,664.58 L259.66,666.03 L261.45,667.35 L263.33,668.52 L265.32,669.52 L267.42,670.33 L269.64,670.93 L272.00,671.30" fill="none" stroke="#000" stroke-width="1.0"/><path d="M272,387.3 V665 Q272,671 275.5,671.3 Q281.7,670.5 281.7,665 V387.3" fill="none" stroke="#000" stroke-width="1.0"/><line x1="270.1" y1="374.0" x2="277.9" y2="372.1" stroke="#000" stroke-width="1.0"/><line x1="272.0" y1="386.6" x2="281.0" y2="385.2" stroke="#000" stroke-width="1.0"/><ellipse cx="52.45" cy="251.9" rx="2.3" ry="4.6" fill="#000"/><ellipse cx="52.45" cy="361.9" rx="2.3" ry="4.6" fill="#000"/><ellipse cx="257" cy="528.9" rx="2.6" ry="4.8" fill="#000" transform="rotate(-18 257 528.9)"/><ellipse cx="488.2" cy="372.3" rx="2.0" ry="4.2" fill="#000"/></g><g class="t" style="will-change:transform"><line x1="766.6" y1="86.7" x2="767.2" y2="129.9" stroke="#e6121c" stroke-width="2.8"/><path d="M767.4,139.7 L761.9,126.1 L767.2,129.9 L772.5,125.9 Z" fill="#e6121c" stroke="none"/><path d="M766.4,76.9 L771.9,90.5 L766.6,86.7 L761.3,90.7 Z" fill="#e6121c" stroke="none"/><text x="769.6" y="113.4" font-size="18.6" fill="#e6121c" transform="rotate(-11.8 769.6 113.4)">12 cm</text><line x1="869.6" y1="102.0" x2="1020.9" y2="216.5" stroke="#e6121c" stroke-width="2.8"/><path d="M1031.2,224.3 L1013.6,217.7 L1020.9,216.5 L1020.1,209.1 Z" fill="#e6121c" stroke="none"/><path d="M859.3,94.2 L876.9,100.8 L869.6,102.0 L870.4,109.4 Z" fill="#e6121c" stroke="none"/><text x="931.8" y="140.6" font-size="18.2" fill="#e6121c" transform="rotate(39.0 931.8 140.6)">80 cm</text><line x1="604.4" y1="227.9" x2="604.4" y2="244.0" stroke="#e6121c" stroke-width="2.8"/><path d="M604.4,252.5 L600.0,241.2 L604.4,244.0 L608.8,241.2 Z" fill="#e6121c" stroke="none"/><path d="M604.4,219.4 L608.8,230.7 L604.4,227.9 L600.0,230.7 Z" fill="#e6121c" stroke="none"/><line x1="589.2" y1="257.6" x2="623.7" y2="249.6" stroke="#e6121c" stroke-width="3.2"/><text x="620.1" y="245.8" font-size="19" fill="#e6121c" transform="rotate(-11 620.1 245.8)">6 cm</text><line x1="953.6" y1="256.1" x2="954.3" y2="301.1" stroke="#e6121c" stroke-width="2.8"/><path d="M954.4,310.4 L949.2,297.6 L954.3,301.1 L959.2,297.4 Z" fill="#e6121c" stroke="none"/><path d="M953.5,246.8 L958.7,259.6 L953.6,256.1 L948.7,259.8 Z" fill="#e6121c" stroke="none"/><text x="958.8" y="279.2" font-size="18.4" fill="#e6121c" transform="rotate(-10.5 958.8 279.2)">10 cm</text><line x1="509.3" y1="376.7" x2="1054.6" y2="264.5" stroke="#e6121c" stroke-width="2.8"/><path d="M1067.6,261.8 L1050.6,270.9 L1054.6,264.5 L1048.4,260.1 Z" fill="#e6121c" stroke="none"/><path d="M496.3,379.4 L513.3,370.3 L509.3,376.7 L515.5,381.1 Z" fill="#e6121c" stroke="none"/><text x="756" y="322.8" font-size="18" fill="#e6121c" transform="rotate(-11 756 322.8)">105 cm</text><line x1="486.6" y1="348.9" x2="486.6" y2="439.2" stroke="#e6121c" stroke-width="2.8"/><path d="M486.6,451.7 L481.6,434.3 L486.6,439.2 L491.6,434.3 Z" fill="#e6121c" stroke="none"/><path d="M486.6,336.4 L491.6,353.8 L486.6,348.9 L481.6,353.8 Z" fill="#e6121c" stroke="none"/><text x="442.4" y="380.2" font-size="14.3" fill="#e6121c" transform="rotate(0 442.4 380.2)">19 cm</text><line x1="959.7" y1="369.0" x2="959.7" y2="412.1" stroke="#e6121c" stroke-width="2.8"/><path d="M959.7,422.2 L954.7,408.2 L959.7,412.1 L964.7,408.2 Z" fill="#e6121c" stroke="none"/><path d="M959.7,358.9 L964.7,372.9 L959.7,369.0 L954.7,372.9 Z" fill="#e6121c" stroke="none"/><text x="963.1" y="397.4" font-size="18.6" fill="#e6121c" transform="rotate(-12 963.1 397.4)">12 cm</text><line x1="960.7" y1="440.4" x2="960.7" y2="510.3" stroke="#e6121c" stroke-width="2.8"/><path d="M960.7,522.2 L955.7,505.7 L960.7,510.3 L965.7,505.7 Z" fill="#e6121c" stroke="none"/><path d="M960.7,428.5 L965.7,445.0 L960.7,440.4 L955.7,445.0 Z" fill="#e6121c" stroke="none"/><text x="965.3" y="478.5" font-size="18.4" fill="#e6121c" transform="rotate(-12 965.3 478.5)">15 cm</text><line x1="294.2" y1="631.3" x2="1061.5" y2="472.5" stroke="#e6121c" stroke-width="2.8"/><path d="M1074.9,469.7 L1057.4,479.0 L1061.5,472.5 L1055.2,468.1 Z" fill="#e6121c" stroke="none"/><path d="M280.8,634.1 L298.3,624.8 L294.2,631.3 L300.5,635.7 Z" fill="#e6121c" stroke="none"/><text x="692.6" y="544.6" font-size="18" fill="#e6121c" transform="rotate(-11.9 692.6 544.6)">160 cm</text><line x1="291.0" y1="693.5" x2="1098.1" y2="526.2" stroke="#e6121c" stroke-width="2.8"/><path d="M1111.5,523.4 L1094.0,532.7 L1098.1,526.2 L1091.8,521.8 Z" fill="#e6121c" stroke="none"/><path d="M277.6,696.3 L295.1,687.0 L291.0,693.5 L297.3,697.9 Z" fill="#e6121c" stroke="none"/><text x="705.6" y="601.8" font-size="17.8" fill="#e6121c" transform="rotate(-11.5 705.6 601.8)">164 cm</text><line x1="160.4" y1="252.4" x2="155.6" y2="558.7" stroke="#e6121c" stroke-width="2.8"/><path d="M155.4,572.1 L150.5,553.4 L155.6,558.7 L160.9,553.6 Z" fill="#e6121c" stroke="none"/><path d="M160.6,239.0 L165.5,257.7 L160.4,252.4 L155.1,257.5 Z" fill="#e6121c" stroke="none"/><text x="160.9" y="408.8" font-size="21" fill="#e6121c" transform="rotate(0 160.9 408.8)">61 cm</text><line x1="48.6" y1="407.9" x2="260.9" y2="585.9" stroke="#e6121c" stroke-width="2.8"/><path d="M271.4,594.7 L253.3,586.7 L260.9,585.9 L260.4,578.3 Z" fill="#e6121c" stroke="none"/><path d="M38.1,399.1 L56.2,407.1 L48.6,407.9 L49.1,415.5 Z" fill="#e6121c" stroke="none"/><text x="105.0" y="445.6" font-size="19.3" fill="#e6121c" transform="rotate(38.7 105.0 445.6)">90 cm</text></g></svg></body></html>
